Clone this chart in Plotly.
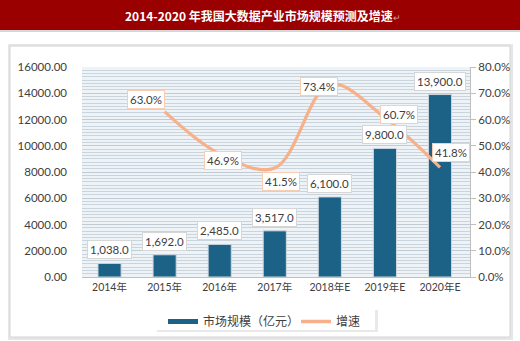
import plotly.graph_objects as go

years = ["2014年", "2015年", "2016年", "2017年", "2018年E", "2019年E", "2020年E"]
market = [1038.0, 1692.0, 2485.0, 3517.0, 6100.0, 9800.0, 13900.0]
growth = [None, 63.0, 46.9, 41.5, 73.4, 60.7, 41.8]
y_ticks = [0, 2000, 4000, 6000, 8000, 10000, 12000, 14000, 16000]
y2_ticks = [0, 10, 20, 30, 40, 50, 60, 70, 80]
title_text = "2014-2020 年我国大数据产业市场规模预测及增速"

W, H = 520, 341
ML, MR, MT, MB = 82, 50, 67, 64
PW, PH = W - ML - MR, H - MT - MB

def px(x):
    return (x - ML) / PW

def py(y):
    return (H - MB - y) / PH

FONT = "Lato, 'Noto Sans CJK SC', sans-serif"
CJK = "'Noto Sans CJK SC', sans-serif"
BAR = "#1b6286"
LINE = "#f6b08a"

fig = go.Figure()
fig.add_trace(go.Bar(x=years, y=market, marker=dict(color=BAR, line=dict(color="#d0d8de", width=1)),
                     width=0.42, showlegend=False, name="市场规模（亿元）"))
fig.add_trace(go.Scatter(x=years, y=growth, yaxis="y2", mode="lines",
                         line=dict(color=LINE, width=3.2, shape="spline", smoothing=1.0),
                         connectgaps=False, showlegend=False, name="增速"))
# legend proxies
fig.add_trace(go.Scatter(x=[None], y=[None], mode="lines", line=dict(color=BAR, width=5), name="市场规模（亿元）"))
fig.add_trace(go.Scatter(x=[None], y=[None], mode="lines", line=dict(color=LINE, width=3.5), name="增速"))

shapes = [
    # banner
    dict(type="rect", xref="paper", yref="paper", x0=px(0), x1=px(W), y0=py(30), y1=py(0),
         fillcolor="#9a0000", line=dict(width=0), layer="below"),
    dict(type="line", xref="paper", yref="paper", x0=px(0), x1=px(W), y0=py(31), y1=py(31),
         line=dict(color="#c8c8c8", width=1.5), layer="below"),
    # panel shadow + panel
    dict(type="rect", xref="paper", yref="paper", x0=px(8), x1=px(513), y0=py(340), y1=py(44),
         fillcolor="#e6e6e6", line=dict(width=0), layer="below"),
    dict(type="rect", xref="paper", yref="paper", x0=px(10), x1=px(510), y0=py(337), y1=py(46),
         fillcolor="white", line=dict(color="#d4d4d4", width=1), layer="below"),
    # plot area background
    dict(type="rect", xref="paper", yref="paper", x0=0, x1=1, y0=0, y1=1,
         fillcolor="#edf3f7", line=dict(width=0), layer="below"),
    # legend box shadow + box
    dict(type="rect", xref="paper", yref="paper", x0=px(157), x1=px(378), y0=py(332), y1=py(310),
         fillcolor="#e9e9e9", line=dict(width=0), layer="below"),
    dict(type="rect", xref="paper", yref="paper", x0=px(155), x1=px(375), y0=py(330), y1=py(308),
         fillcolor="white", line=dict(width=0), layer="below"),
]

annotations = [
    dict(text=title_text + "<span style='font-size:9px;color:#d9a0a0;font-weight:normal'>↵</span>",
         xref="paper", yref="paper", x=px(263), y=py(15), xanchor="center", yanchor="middle",
         showarrow=False,
         font=dict(family=CJK, size=12, color="white", weight="bold")),
]

for xv, v in zip(years, market):
    annotations.append(dict(x=xv, y=v, xref="x", yref="y", text=f"{v:,.1f}", showarrow=False,
                            yanchor="bottom", yshift=4, bgcolor="white", bordercolor="#d6d6d6",
                            borderwidth=1, borderpad=2, font=dict(family=FONT, size=11.5, color="#404040")))

offsets = [None, (-19, 12), (3, -7), (6, -13), (-11, -2), (14, 3), (11, 15)]
for xv, g, off in zip(years, growth, offsets):
    if g is None:
        continue
    annotations.append(dict(x=xv, y=g, xref="x", yref="y2", text=f"{g:.1f}%", showarrow=False,
                            xshift=off[0], yshift=off[1], bgcolor="white", bordercolor="#f8cdb4",
                            borderwidth=1, borderpad=2, font=dict(family=FONT, size=11.5, color="#404040")))

fig.update_layout(
    width=W, height=H,
    margin=dict(l=ML, r=MR, t=MT, b=MB, autoexpand=False),
    paper_bgcolor="white", plot_bgcolor="rgba(0,0,0,0)",
    font=dict(family=FONT, color="#404040"),
    bargap=0.58,
    shapes=shapes, annotations=annotations,
    xaxis=dict(showline=True, linecolor="#bfbfbf", linewidth=1, ticks="", showgrid=False,
               tickfont=dict(size=10.5, color="#404040")),
    yaxis=dict(range=[0, 16000], tickvals=y_ticks, ticktext=[f"{t:.2f}" for t in y_ticks],
               showgrid=True, gridcolor="#c0cbd4", gridwidth=1, zeroline=False, showline=False,
               minor=dict(dtick=250, showgrid=True, gridcolor="#c9d4dc", gridwidth=1),
               tickfont=dict(size=11.5, color="#404040"), ticklabelstandoff=14),
    yaxis2=dict(range=[0, 80], tickvals=y2_ticks, ticktext=[f"{t:.1f}%" for t in y2_ticks],
                overlaying="y", side="right", showgrid=False, zeroline=False,
                showline=True, linecolor="#bfbfbf", ticks="outside", ticklen=5, tickcolor="#bfbfbf",
                tickfont=dict(size=11.5, color="#404040")),
    legend=dict(orientation="h", x=px(163), y=py(307), xanchor="left", yanchor="top",
                bgcolor="rgba(0,0,0,0)", borderwidth=0, font=dict(family=CJK, size=12, color="#404040"),
                itemwidth=30, entrywidth=88, entrywidthmode="pixels"),
)

fig.write_html("out.html")
